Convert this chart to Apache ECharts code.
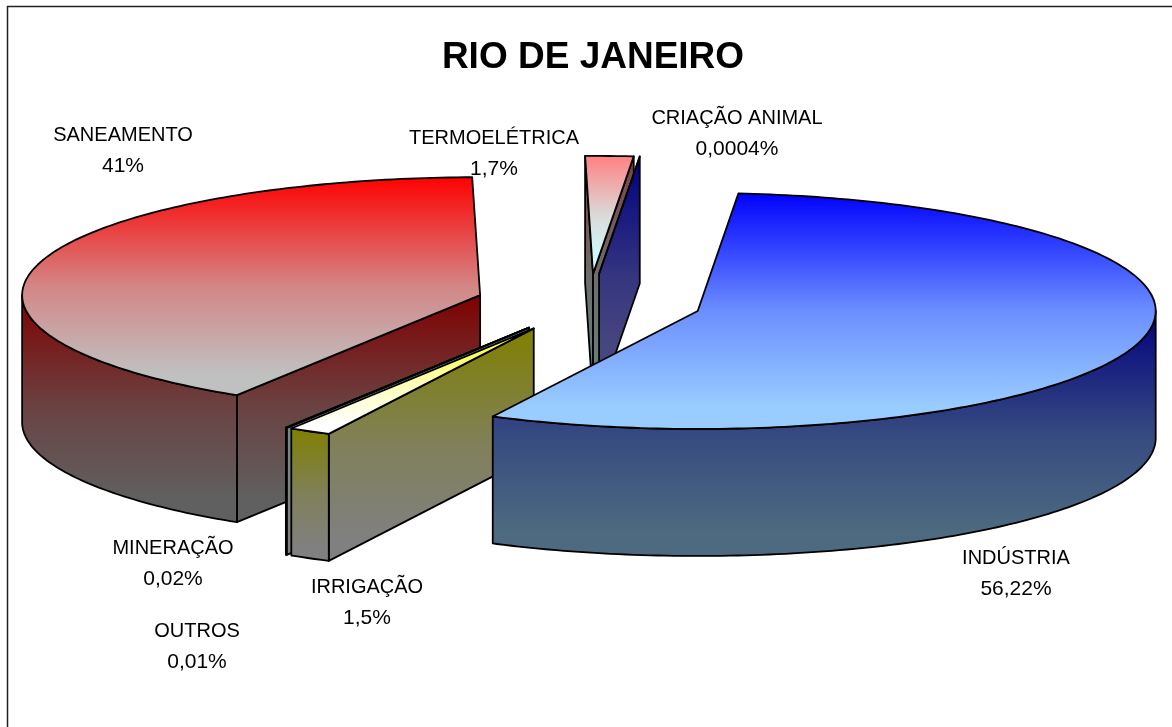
<!DOCTYPE html>
<html>
<head>
<meta charset="utf-8">
<style>
    html, body { margin: 0; padding: 0; background: #fff; }
    #chart { width: 1172px; height: 727px; }
</style>
<script src="https://cdn.jsdelivr.net/npm/echarts@6/dist/echarts.min.js"></script>
</head>
<body>
<div id="chart"></div>
<script>
// data, clockwise from the first slice
const categories = ['INDÚSTRIA', 'IRRIGAÇÃO', 'MINERAÇÃO', 'OUTROS', 'SANEAMENTO', 'TERMOELÉTRICA', 'CRIAÇÃO ANIMAL'];
const percents = [56.22, 1.5, 0.02, 0.01, 41, 1.7, 0.0004];

// pie geometry in pixels
const centerX = 589, centerY = 303;
const radiusX = 458, radiusY = 118;
const depth = 127;
const explode = 113;
const startAngle = 5.1;

// back to front
const drawOrder = [5, 6, 4, 3, 2, 1, 0];

// [top from, top to, side from, side to]
const sliceColors = [
    ['#0000ff', '#99ccff', '#000080', '#4d6a80'],
    ['#ffff00', '#ffffff', '#808000', '#808080'],
    ['#ccffff', '#ffffff', '#669999', '#808080'],
    ['#ff99cc', '#ffffff', '#804060', '#808080'],
    ['#ff0000', '#c0c0c0', '#800000', '#606060'],
    ['#ff8080', '#ccffff', '#804040', '#668080'],
    ['#0000ff', '#9999ff', '#000080', '#4d4d80']
];

// label centres
const labelPos = [[1016, 574], [367, 603], [173, 564], [197, 647], [123, 151], [494, 154], [737, 134]];

const total = percents.reduce((a, b) => a + b, 0);
const angles = [];
let acc = startAngle;
percents.forEach((p) => {
    const span = p / total * 360;
    angles.push([acc, acc + span]);
    acc += span;
});

const rad = (a) => a * Math.PI / 180;
// the fades in the picture run fast first and flatten out near the end
const gradient = (from, to) => ({
    type: 'linear', x: 0, y: 0, x2: 0, y2: 1,
    colorStops: [
        { offset: 0, color: from },
        { offset: 0.5, color: echarts.color.lerp(0.7, [from, to]) },
        { offset: 0.9, color: to },
        { offset: 1, color: to }
    ]
});

function face(points, fill) {
    return {
        type: 'polygon',
        shape: { points: points },
        style: { fill: fill, stroke: '#000', lineWidth: 1.8, lineJoin: 'round' }
    };
}

function renderSlice(params, api) {
    const i = api.value(1);
    const [a0, a1] = angles[i];
    const mid = rad((a0 + a1) / 2);
    const apex = [
        centerX + explode * Math.sin(mid),
        centerY - explode * Math.cos(mid) * radiusY / radiusX
    ];
    const rim = (a) => [
        apex[0] + radiusX * Math.sin(rad(a)),
        apex[1] - radiusY * Math.cos(rad(a))
    ];
    const down = (p) => [p[0], p[1] + depth];
    const c = sliceColors[i];
    const side = gradient(c[2], c[3]);
    const children = [];

    // radial walls, only those turned to the viewer
    if (Math.sin(rad(a0)) < 0) {
        children.push(face([apex, rim(a0), down(rim(a0)), down(apex)], side));
    }
    if (Math.sin(rad(a1)) > 0) {
        children.push(face([apex, rim(a1), down(rim(a1)), down(apex)], side));
    }

    // outer wall, front half only
    const from = Math.max(a0, 90), to = Math.min(a1, 270);
    if (to > from) {
        const edge = [];
        for (let a = from; a < to; a += 1) edge.push(rim(a));
        edge.push(rim(to));
        children.push(face(edge.concat(edge.map(down).reverse()), side));
    }

    // top
    const top = [apex];
    for (let a = a0; a < a1; a += 1) top.push(rim(a));
    top.push(rim(a1));
    children.push(face(top, gradient(c[0], c[1])));

    return { type: 'group', children: children };
}

function renderLabel(params, api) {
    const i = api.value(1);
    return {
        type: 'text',
        style: {
            x: labelPos[i][0],
            y: labelPos[i][1],
            text: '{n|' + categories[i] + '}\n{p|' + String(percents[i]).replace('.', ',') + '%}',
            rich: {
                n: { fontFamily: '"Liberation Sans", Arial, sans-serif', fontSize: 20, lineHeight: 31, fill: '#000', align: 'center' },
                p: { fontFamily: '"Liberation Sans", Arial, sans-serif', fontSize: 21, lineHeight: 31, fill: '#000', align: 'center' }
            },
            align: 'center',
            verticalAlign: 'middle'
        }
    };
}

const chart = echarts.init(document.getElementById('chart'));
chart.setOption({
    animation: false,
    backgroundColor: '#fff',
    title: {
        text: 'RIO DE JANEIRO',
        left: 588,
        top: 34,
        textAlign: 'center',
        textStyle: { fontFamily: '"Liberation Sans", Arial, sans-serif', fontSize: 37, fontWeight: 'bold', color: '#000' }
    },
    graphic: [
        { type: 'line', shape: { x1: 7, y1: 6.5, x2: 1172, y2: 6.5 }, style: { stroke: '#222', lineWidth: 1.5 } },
        { type: 'line', shape: { x1: 7.5, y1: 6, x2: 7.5, y2: 727 }, style: { stroke: '#222', lineWidth: 1.5 } }
    ],
    series: [
        {
            type: 'custom',
            coordinateSystem: 'none',
            renderItem: renderSlice,
            silent: true,
            data: drawOrder.map((i) => ({ name: categories[i], value: [percents[i], i] }))
        },
        {
            type: 'custom',
            coordinateSystem: 'none',
            renderItem: renderLabel,
            silent: true,
            z: 5,
            data: categories.map((name, i) => ({ name: name, value: [percents[i], i] }))
        }
    ]
});
window.addEventListener('resize', () => chart.resize());
</script>
</body>
</html>
